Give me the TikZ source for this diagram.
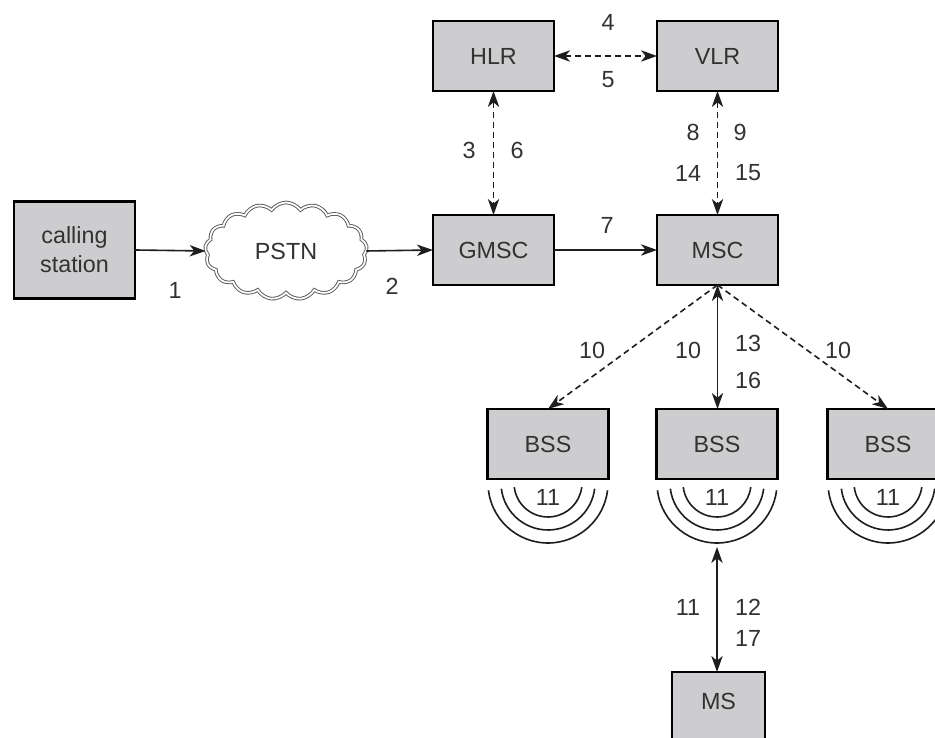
\documentclass[tikz,border=0pt]{standalone}
\usepackage{fontspec}
\setmainfont{Liberation Sans}
\usetikzlibrary{arrows.meta,shapes.symbols,calc}
\definecolor{boxgray}{RGB}{205,205,207}
\definecolor{txt}{RGB}{50,50,50}
\definecolor{linec}{RGB}{30,30,30}
\definecolor{cloudc}{RGB}{90,90,90}
\newcommand\lbl{\fontsize{17.5}{22}\selectfont}
\begin{document}
\begin{tikzpicture}[x=0.75pt,y=0.75pt,
  box/.style={draw=black, line width=2pt, fill=boxgray, text=txt,
    minimum width=90.75pt, minimum height=52.5pt, inner sep=0pt, outer sep=0pt,
    font=\lbl, align=center},
  lab/.style={text=txt, font=\lbl, inner sep=0pt},
  conn/.style={line width=1.2pt, draw=linec, -{Stealth[length=12pt,width=8.5pt,inset=3.5pt]}},
  bconn/.style={line width=1.2pt, draw=linec, {Stealth[length=12pt,width=8.5pt,inset=3.5pt]}-{Stealth[length=12pt,width=8.5pt,inset=3.5pt]}},
  dashpat/.style={dash pattern=on 4.5pt off 3pt},
  arcline/.style={line width=1.2pt, draw=linec}
]
\useasboundingbox (0,0) rectangle (935,738);
\fill[white] (0,0) rectangle (935,738);
\clip (0,0) rectangle (935,738);

% nodes
\node[box, minimum height=72.75pt] (cs) at (74.5,488) {calling\\station};
\node[cloud, cloud puffs=17, cloud puff arc=110, aspect=1.7,
  minimum width=121.5pt, minimum height=72.75pt, inner sep=0pt, outer sep=0pt,
  draw=cloudc, double=white, double distance=1.3pt, line width=0.7pt,
  text=txt, font=\lbl] (pstn) at (286,487) {PSTN};
\node[box] (gmsc) at (493.5,488) {GMSC};
\node[box] (msc) at (717.5,488) {MSC};
\node[box] (hlr) at (493.5,682) {HLR};
\node[box] (vlr) at (717.5,682) {VLR};
\node[box] (bss1) at (548,294) {BSS};
\node[box] (bss2) at (717,294) {BSS};
\node[box] (bss3) at (888,294) {BSS};
\node[box, minimum width=69.75pt, minimum height=52.5pt, anchor=north] (ms) at (718.5,66) {};
\node[lab] (mslab) at (718.5,37) {MS};

% radio arcs
\foreach \cx/\nm in {548/a, 717/b, 888/c}{
  \foreach \r in {25.5,35.25,45}{
    \draw[arcline] ($(\cx,255)+(187:\r pt)$) arc[start angle=187,end angle=353,radius=\r pt];
  }
  \node[lab] (eleven\nm) at (\cx,241) {11};
}
\coordinate (arcbot) at (717,191);

% connectors
\draw[conn] (cs.east) -- (pstn.west);
\draw[conn] (pstn.east) -- (gmsc.west);
\draw[conn] (gmsc.east) -- (msc.west);
\draw[bconn, dashpat] (hlr.east) -- (vlr.west);
\draw[bconn, dashpat] (hlr.south) -- (gmsc.north);
\draw[bconn, dashpat] (vlr.south) -- (msc.north);
\draw[conn, dashpat] (msc.south) -- (bss1.north);
\draw[conn, dashpat] (msc.south) -- (bss3.north);
\draw[bconn] (msc.south) -- (msc.south |- bss2.north);
\draw[bconn] (arcbot) -- (arcbot |- ms.north);

% labels
\node[lab] (l1) at (175,448) {1};
\node[lab] (l2) at (392,452) {2};
\node[lab] (l7) at (607,513) {7};
\node[lab] (l4) at (608,716) {4};
\node[lab] (l5) at (608,658) {5};
\node[lab] (l3) at (469,588) {3};
\node[lab] (l6) at (517,588) {6};
\node[lab] (l8) at (693,606) {8};
\node[lab] (l9) at (740,606) {9};
\node[lab] (l14) at (688,565) {14};
\node[lab] (l15) at (748,565) {15};
\node[lab] (l10a) at (592,388) {10};
\node[lab] (l10b) at (688,388) {10};
\node[lab] (l10c) at (838,388) {10};
\node[lab] (l13) at (748,395) {13};
\node[lab] (l16) at (748,358) {16};
\node[lab] (l11) at (688,131) {11};
\node[lab] (l12) at (748,131) {12};
\node[lab] (l17) at (748,100) {17};
\end{tikzpicture}
\end{document}
